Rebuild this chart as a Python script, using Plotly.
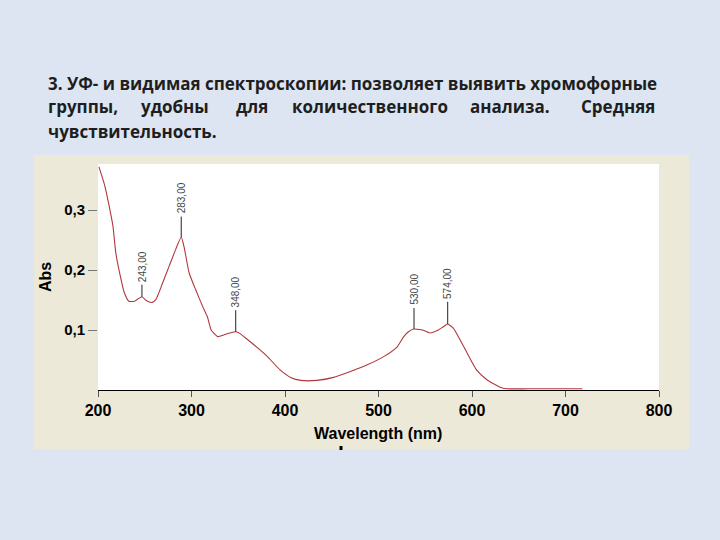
import plotly.graph_objects as go

# ---------------- data ----------------
wavelength_nm = [201, 207, 212, 216, 219, 223, 228, 233, 239, 243, 247, 251, 253, 258, 262,
                 269, 276, 283, 289, 292, 297.5, 304.5, 312, 317, 321, 328, 335, 341, 347.3,
                 352, 356, 367, 381, 395, 406, 417, 434, 452, 470, 488, 506, 520, 527, 532,
                 538, 542, 547, 555, 564, 569, 574, 580, 587.5, 595, 605, 616, 630, 637, 660,
                 690, 718]
absorbance = [0.372, 0.342, 0.306, 0.273, 0.229, 0.196, 0.163, 0.148, 0.148, 0.152, 0.1555,
              0.150, 0.148, 0.146, 0.151, 0.178, 0.206, 0.234, 0.255, 0.239, 0.195, 0.167,
              0.139, 0.122, 0.100, 0.089, 0.092, 0.095, 0.097, 0.094, 0.089, 0.075, 0.056,
              0.033, 0.021, 0.016, 0.016, 0.021, 0.031, 0.042, 0.056, 0.072, 0.089, 0.097,
              0.1017, 0.101, 0.100, 0.095, 0.100, 0.105, 0.110, 0.103, 0.083, 0.061, 0.033,
              0.017, 0.0045, 0.002, 0.002, 0.002, 0.002]

peak_nm = [247, 289, 347.3, 538, 574]
peak_abs = [0.1555, 0.255, 0.097, 0.1017, 0.110]
peak_labels = ["243,00", "283,00", "348,00", "530,00", "574,00"]

x_ticks = [200, 300, 400, 500, 600, 700, 800]
x_tick_labels = ["200", "300", "400", "500", "600", "700", "800"]
y_ticks = [0.1, 0.2, 0.3]
y_tick_labels = ["0,1", "0,2", "0,3"]

title_line1 = "3. УФ- и видимая спектроскопии: позволяет выявить хромофорные"
title_line2 = ["группы,", "удобны", "для", "количественного", "анализа.", "Средняя"]
title_line3 = "чувствительность."

x_title = "Wavelength (nm)"
y_title = "Abs"

# ---------------- layout helpers (pixel -> paper) ----------------
W, H = 720, 540
L, R, T, B = 98, 659, 164, 390


def px(x):
    return (x - L) / (R - L)


def py(y):
    return (B - y) / (B - T)


fig = go.Figure()
fig.add_trace(go.Scatter(x=wavelength_nm, y=absorbance, mode="lines",
                         line=dict(color="#b0383c", width=1.1, shape="spline", smoothing=0.5),
                         hoverinfo="skip", showlegend=False))

shapes = [
    dict(type="rect", xref="paper", yref="paper", x0=px(34), x1=px(689), y0=py(155), y1=py(449),
         fillcolor="#ECE9D8", line=dict(width=0), layer="below"),
    dict(type="rect", xref="paper", yref="paper", x0=0, x1=1, y0=0, y1=1,
         fillcolor="white", line=dict(width=0), layer="below"),
    dict(type="rect", xref="paper", yref="paper", x0=px(339.5), x1=px(342.5), y0=py(446), y1=py(450),
         fillcolor="black", line=dict(width=0)),
]
stem_len = [0.020, 0.034, 0.036, 0.035, 0.037]
annotations = []
for xn, ya, lab, sl in zip(peak_nm, peak_abs, peak_labels, stem_len):
    shapes.append(dict(type="line", xref="x", yref="y", x0=xn, x1=xn, y0=ya, y1=ya + sl,
                       line=dict(color="#222222", width=1)))
    annotations.append(dict(x=xn, y=ya + sl, xref="x", yref="y", text=lab, showarrow=False,
                            textangle=-90, xanchor="center", yanchor="bottom", yshift=1,
                            font=dict(family="Liberation Sans", size=10, color="#444444")))

title_font = dict(family="Open Sans", size=17, color="#1e1e1e", weight=700)
annotations.append(dict(x=px(46), y=py(83), xref="paper", yref="paper", text=title_line1,
                        showarrow=False, xanchor="left", yanchor="middle", font=title_font))
# justified second line: first word left-aligned, last right-aligned, others centred
line2_x = [46, 175, 252, 370, 510, 657]
for i, (w, xx) in enumerate(zip(title_line2, line2_x)):
    anchor = "left" if i == 0 else ("right" if i == len(title_line2) - 1 else "center")
    annotations.append(dict(x=px(xx), y=py(107), xref="paper", yref="paper", text=w,
                            showarrow=False, xanchor=anchor, yanchor="middle", font=title_font))
annotations.append(dict(x=px(46), y=py(131), xref="paper", yref="paper", text=title_line3,
                        showarrow=False, xanchor="left", yanchor="middle", font=title_font))

annotations.append(dict(x=px(378), y=py(433), xref="paper", yref="paper", text=x_title,
                        showarrow=False, xanchor="center", yanchor="middle",
                        font=dict(family="Liberation Sans", size=16, color="black", weight=700)))
annotations.append(dict(x=px(45), y=py(277), xref="paper", yref="paper", text=y_title,
                        showarrow=False, textangle=-90, xanchor="center", yanchor="middle",
                        font=dict(family="Liberation Sans", size=16, color="black", weight=700)))

fig.update_layout(
    width=W, height=H,
    margin=dict(l=L, r=W - R, t=T, b=H - B, pad=0),
    paper_bgcolor="#DDE5F2",
    plot_bgcolor="white",
    shapes=shapes,
    annotations=annotations,
    xaxis=dict(range=[200, 800], tickvals=x_ticks, ticktext=x_tick_labels, showgrid=False,
               zeroline=False, showline=True, linecolor="black", linewidth=1,
               ticks="outside", ticklen=6, tickcolor="#555555",
               tickfont=dict(family="Liberation Sans", size=16, color="black", weight=700)),
    yaxis=dict(range=[0, (B - T) / 600], tickvals=y_ticks, ticktext=y_tick_labels, showgrid=False,
               zeroline=False, showline=False, ticks="outside", ticklen=9, tickcolor="#777777",
               tickfont=dict(family="Liberation Sans", size=15, color="black", weight=700)),
)

fig.write_html("out.html",
               config={"displayModeBar": False, "staticPlot": True},
               post_script="document.body.style.margin='0';"
                           "document.body.style.background='#DDE5F2';")
